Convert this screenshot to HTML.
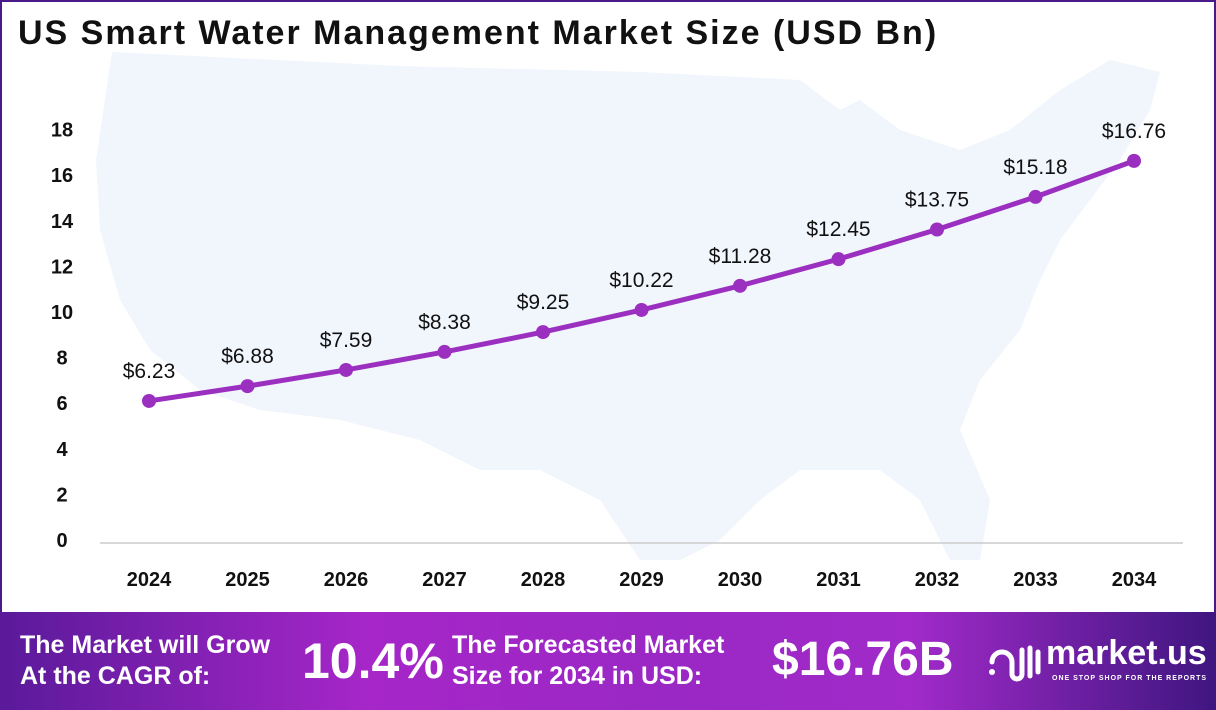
<!DOCTYPE html>
<html><head><meta charset="utf-8"><style>
body{margin:0;width:1216px;height:708px;overflow:hidden;font-family:"Liberation Sans",sans-serif;background:#fff}
#wrap{position:relative;width:1212px;height:706px;border:2px solid #4b1a8a;border-bottom:none;background:#fff}
#title{position:absolute;left:16px;top:12px;font-size:34px;font-weight:bold;color:#111;letter-spacing:2px}
#footer{position:absolute;left:-2px;top:610px;width:1216px;height:98px;background:linear-gradient(90deg,#5a1a9a 0%,#a626c8 30%,#9a28c4 55%,#a12ac9 75%,#3f1680 100%);color:#fff;font-weight:bold}
.ft{position:absolute;font-size:25px;line-height:31px}
</style></head><body>
<div id="wrap">
<svg id="chart" width="1216" height="612" style="position:absolute;left:-2px;top:-2px">
<polygon fill="#f1f5fc" points="112,52 400,66 640,72 800,80 840,110 860,100 900,130 960,150 1010,130 1060,90 1110,60 1160,72 1150,110 1120,160 1090,200 1060,240 1040,280 1020,330 980,380 960,430 990,500 980,560 950,560 920,500 880,470 800,470 760,500 720,540 680,560 640,560 600,500 540,470 480,470 420,440 340,420 260,410 200,390 150,350 120,300 100,230 96,160"/>
</svg>
<div id="title">US Smart Water Management Market Size (USD Bn)</div>
<div id="footer">
<div class="ft" style="left:20px;top:18px">The Market will Grow<br>At the CAGR of:</div>
<div style="position:absolute;left:302px;top:20px;font-size:50px">10.4%</div>
<div class="ft" style="left:452px;top:18px">The Forecasted Market<br>Size for 2034 in USD:</div>
<div style="position:absolute;left:772px;top:20px;font-size:48px">$16.76B</div>
<svg style="position:absolute;left:986px;top:28px" width="56" height="46">
<path d="M6 22 a10 10 0 0 1 20 0 v12 a5 5 0 0 0 10 0 V10 M44 8 v28 M52 12 v20" fill="none" stroke="#fff" stroke-width="5" stroke-linecap="round"/>
<circle cx="6" cy="32" r="3" fill="#fff"/>
</svg>
<div style="position:absolute;left:1046px;top:22px;font-size:34px">market.us</div>
<div style="position:absolute;left:1052px;top:63px;font-size:7px;letter-spacing:1px">ONE STOP SHOP FOR THE REPORTS</div>
</div>
</div>
<script>
const years=["2024","2025","2026","2027","2028","2029","2030","2031","2032","2033","2034"];
const values=[6.23,6.88,7.59,8.38,9.25,10.22,11.28,12.45,13.75,15.18,16.76];
const valueLabels=["$6.23","$6.88","$7.59","$8.38","$9.25","$10.22","$11.28","$12.45","$13.75","$15.18","$16.76"];
const yTicks=[0,2,4,6,8,10,12,14,16,18];
const svg=document.getElementById('chart');
const NS='http://www.w3.org/2000/svg';
const x=i=>149+i*98.5;
const y=v=>543-v*22.8;
function mk(t,a){const e=document.createElementNS(NS,t);for(const k in a)e.setAttribute(k,a[k]);svg.appendChild(e);return e;}
const ax=mk('line',{x1:100,x2:1183,y1:543,y2:543,stroke:'#ccc','stroke-width':1.5});


yTicks.forEach(v=>{const t=mk('text',{x:62,y:y(v)+4,'text-anchor':'middle','font-size':20,'font-weight':'bold',fill:'#111','font-family':'Liberation Sans'});t.textContent=v;

});
years.forEach((yr,i)=>{const t=mk('text',{x:x(i),y:586,'text-anchor':'middle','font-size':20,'font-weight':'bold',fill:'#111','font-family':'Liberation Sans'});t.textContent=yr;

});
const line=mk('polyline',{points:values.map((v,i)=>x(i)+','+y(v)).join(' '),fill:'none',stroke:'#9b2fc0','stroke-width':5,'stroke-linejoin':'round'});


values.forEach((v,i)=>{const c=mk('circle',{cx:x(i),cy:y(v),r:7,fill:'#9b2fc0'});


const t=mk('text',{x:x(i),y:y(v)-23,'text-anchor':'middle','font-size':21,fill:'#111','font-family':'Liberation Sans'});t.textContent=valueLabels[i];

});
</script>
</body></html>
